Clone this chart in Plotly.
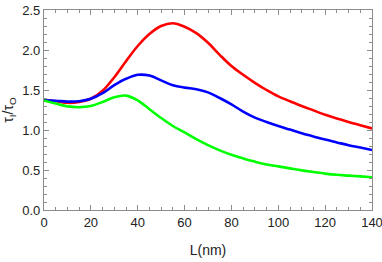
import plotly.graph_objects as go

L_nm = [0, 5, 10, 15, 20, 25, 30, 35, 40, 45, 50, 55, 60, 65, 70, 75, 80, 85, 90, 95,
        100, 105, 110, 115, 120, 125, 130, 135, 140]
red_ratio = [1.37, 1.36, 1.34, 1.35, 1.39, 1.49, 1.66, 1.86, 2.05, 2.20, 2.30, 2.335, 2.29, 2.21, 2.09, 1.94,
             1.80, 1.69, 1.59, 1.50, 1.42, 1.36, 1.30, 1.245, 1.19, 1.145, 1.10, 1.06, 1.02]
blue_ratio = [1.37, 1.365, 1.355, 1.36, 1.39, 1.46, 1.56, 1.64, 1.69, 1.68, 1.62, 1.56, 1.53, 1.51, 1.47, 1.40,
              1.32, 1.23, 1.155, 1.10, 1.05, 1.005, 0.96, 0.92, 0.88, 0.845, 0.81, 0.78, 0.75]
green_ratio = [1.37, 1.33, 1.295, 1.285, 1.30, 1.35, 1.41, 1.43, 1.37, 1.26, 1.15, 1.05, 0.97, 0.885, 0.81, 0.745,
               0.69, 0.645, 0.605, 0.57, 0.545, 0.52, 0.495, 0.475, 0.455, 0.44, 0.43, 0.42, 0.41]

x_ticks = [0, 20, 40, 60, 80, 100, 120, 140]
y_ticks = [0.0, 0.5, 1.0, 1.5, 2.0, 2.5]

FONT = "Liberation Sans Narrow, Liberation Sans, Arial, sans-serif"

fig = go.Figure()
for ys, col in [(red_ratio, "#ff0000"), (blue_ratio, "#0000ff"), (green_ratio, "#00ff00")]:
    fig.add_trace(go.Scatter(x=L_nm, y=ys, mode="lines",
                             line=dict(color=col, width=2.6, shape="spline", smoothing=1.0),
                             showlegend=False))

axis_common = dict(showline=True, linecolor="#8c8c8c", linewidth=1.3, mirror="ticks",
                   ticks="inside", ticklen=5, tickcolor="#8c8c8c", tickwidth=1,
                   showgrid=False, zeroline=False, ticklabeloverflow="allow", automargin=False,
                   tickfont=dict(family=FONT, size=13, color="#222"))

fig.update_layout(
    width=382, height=262,
    margin=dict(l=44, r=0, t=10, b=52),
    paper_bgcolor="white", plot_bgcolor="white",
    xaxis=dict(range=[0, 140], tickvals=x_ticks, ticktext=[str(v) for v in x_ticks],
               domain=[0, 328 / 338],
               minor=dict(dtick=5, ticks="inside", ticklen=3, tickcolor="#8c8c8c", tickwidth=1),
               title=dict(text="L(nm)", font=dict(family=FONT, size=14, color="#222"), standoff=16),
               **axis_common),
    yaxis=dict(range=[0, 2.5], tickvals=y_ticks, ticktext=[f"{v:.1f}" for v in y_ticks],
               minor=dict(dtick=0.1, ticks="inside", ticklen=3, tickcolor="#8c8c8c", tickwidth=1),
               title=dict(text="τ<sub>I</sub>/τ<sub>O</sub>", font=dict(family=FONT, size=14, color="#222"), standoff=6),
               **axis_common),
)

fig.write_html("out.html", config={"displayModeBar": False},
               post_script="document.body.style.margin='0';document.body.style.overflow='hidden';")
